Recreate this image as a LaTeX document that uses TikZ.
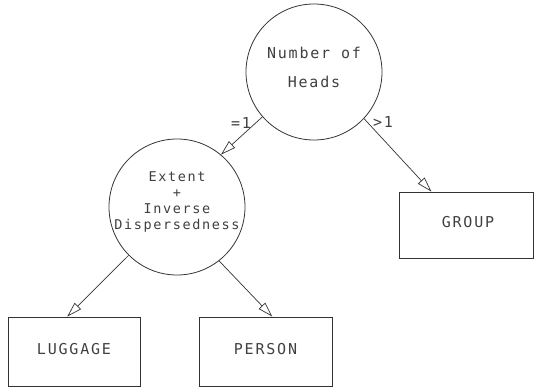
\documentclass[tikz,border=0pt]{standalone}
\usepackage{fontspec}
\newfontfamily\plotfont{DejaVu Sans Mono}[LetterSpace=12]
\usetikzlibrary{shapes.geometric, arrows.meta}

\begin{document}
\begin{tikzpicture}[x=1pt, y=-1pt,
  decision/.style={draw=black!80, line width=0.8pt, circle, minimum size=136pt, inner sep=0pt},
  outcome/.style={draw=black!80, line width=0.8pt, rectangle, minimum width=132pt, minimum height=68pt, inner sep=0pt},
  caption/.style={text=black!75, font=\plotfont\fontsize{15}{18}\selectfont, align=center, inner sep=0pt},
  branch/.style={draw=black!80, line width=0.7pt, -{Triangle[open, length=15pt, width=9pt]}}]
  % Fix the page to the size of the picture
  \useasboundingbox (0,0) rectangle (534,387);
  % Make the two decision circles
  \node[decision] (heads) at (314,72) {};
  \node[decision] (extent) at (177,207) {};
  % Write their questions (a bit above the centre)
  \node[caption, font=\plotfont\fontsize{15}{29}\selectfont] (heads-text) at (314,67) {Number of\\Heads};
  \node[caption, font=\plotfont\fontsize{13.5}{16.3}\selectfont] (extent-text) at (177,202) {Extent\\+\\Inverse\\Dispersedness};
  % Make the three outcome boxes
  \node[outcome, minimum height=69pt] (luggage) at (74,351.5) {};
  \node[outcome, minimum height=69pt, minimum width=133pt] (person) at (265.5,351.5) {};
  \node[outcome, minimum width=134pt, minimum height=66pt] (group) at (466,225) {};
  \node[caption] (luggage-text) at (74,349) {LUGGAGE};
  \node[caption] (person-text) at (265.5,349) {PERSON};
  \node[caption] (group-text) at (468,222) {GROUP};
  % Connect them with open arrows
  \draw[branch] (heads.221) -- (extent.50);
  \draw[branch] (heads.317) -- (group.136);
  \draw[branch] (extent.225) -- (luggage.101);
  \draw[branch] (extent.308) -- (person.79);
  % Add the branch labels
  \node[caption] (eq-one) at (241,123) {=1};
  \node[caption] (gt-one) at (383,122) {>1};
\end{tikzpicture}
\end{document}
